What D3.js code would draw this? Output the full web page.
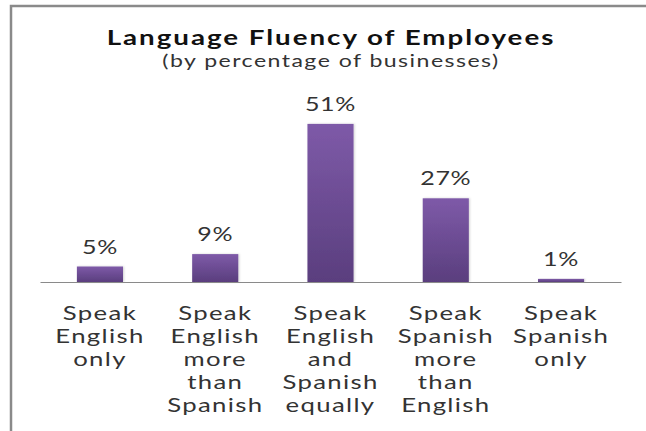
<!DOCTYPE html>
<html>
<head>
<meta charset="utf-8">
<script src="https://cdn.jsdelivr.net/npm/d3@7"></script>
<style>
  html, body { margin: 0; padding: 0; background: #fff; }
  svg { display: block; }
</style>
</head>
<body>
<svg id="chart" width="646" height="431"></svg>
<script>
// Chart content
const title = "Language Fluency of Employees";
const subtitle = "(by percentage of businesses)";
const categories = [
  ["Speak", "English", "only"],
  ["Speak", "English", "more", "than", "Spanish"],
  ["Speak", "English", "and", "Spanish", "equally"],
  ["Speak", "Spanish", "more", "than", "English"],
  ["Speak", "Spanish", "only"]
];
const values = [5, 9, 51, 27, 1];

const W = 646, H = 431;
const FONT = "Lato, 'Open Sans', sans-serif";
const SX = 1.32; // horizontal stretch applied to all text

const svg = d3.select("#chart");

// Gradient fill for the bars
const defs = svg.append("defs");
const grad = defs.append("linearGradient")
  .attr("id", "barGrad").attr("x1", 0).attr("y1", 0).attr("x2", 0).attr("y2", 1);
grad.append("stop").attr("offset", "0%").attr("stop-color", "#7e5aa8");
grad.append("stop").attr("offset", "100%").attr("stop-color", "#5a3e7e");

const shadow = defs.append("filter").attr("id", "shadow")
  .attr("x", "-20%").attr("y", "-20%").attr("width", "140%").attr("height", "140%");
shadow.append("feDropShadow").attr("dx", 1).attr("dy", 0).attr("stdDeviation", 1.2)
  .attr("flood-color", "#000").attr("flood-opacity", 0.18);

// Outer frame (top and left edges visible)
svg.append("path")
  .attr("d", `M11,${H} L11,6 L${W},6`)
  .attr("fill", "none").attr("stroke", "#8a8a8a").attr("stroke-width", 2.5);

// Scales
const idx = values.map((d, i) => i);
const x = d3.scaleBand().domain(idx).range([40, 621]).paddingInner(0.6).paddingOuter(0.32);
const y = d3.scaleLinear().domain([0, 60]).range([282, 96]);

// Helper for stretched centered text
function stretchedText(parent, cx, yPos, str, size, weight, fill, spacing) {
  const g = parent.append("g").attr("transform", `translate(${cx},${yPos}) scale(${SX},1)`);
  return g.append("text")
    .attr("x", 0).attr("y", 0)
    .attr("text-anchor", "middle")
    .attr("font-family", FONT)
    .attr("font-size", size)
    .attr("font-weight", weight)
    .attr("letter-spacing", spacing || 0)
    .attr("fill", fill)
    .text(str);
}

// Titles
stretchedText(svg, 331, 45, title, 21, "bold", "#111", 1.5);
stretchedText(svg, 331, 67, subtitle, 17.5, "normal", "#333", 1.1);

// Bars
svg.append("g").selectAll("rect")
  .data(values)
  .join("rect")
  .attr("x", (d, i) => x(i))
  .attr("y", d => y(d))
  .attr("width", x.bandwidth())
  .attr("height", d => y(0) - y(d))
  .attr("fill", "url(#barGrad)")
  .attr("filter", "url(#shadow)");

// Category axis baseline
const axis = svg.append("g")
  .attr("transform", `translate(0,${y(0)})`)
  .call(d3.axisBottom(x).tickSize(0).tickFormat(""));
axis.select(".domain").attr("stroke", "#8a8a8a").attr("stroke-width", 1.2);

// Value labels
values.forEach((v, i) => {
  stretchedText(svg, x(i) + x.bandwidth() / 2, y(v) - 13, v + "%", 19, "normal", "#333", 0.5);
});

// Category labels (wrapped)
categories.forEach((lines, i) => {
  lines.forEach((line, j) => {
    stretchedText(svg, x(i) + x.bandwidth() / 2, 320 + j * 23, line, 19.5, "normal", "#333", 1);
  });
});
</script>
</body>
</html>
